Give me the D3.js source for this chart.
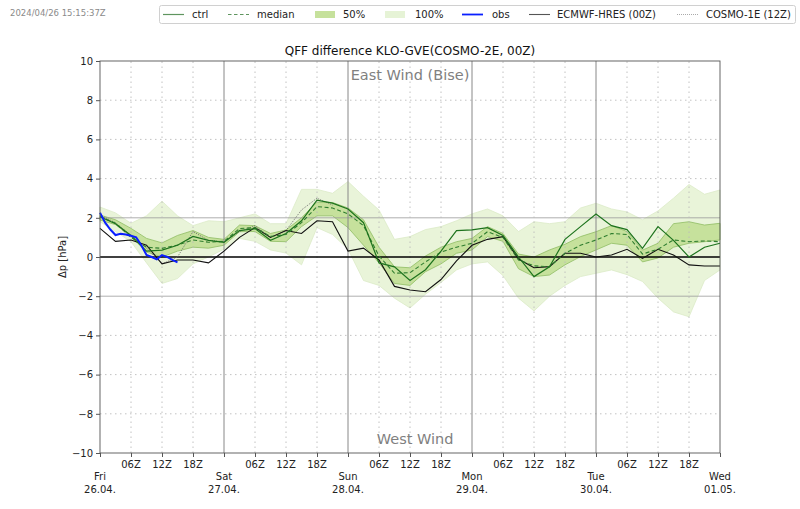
<!DOCTYPE html>
<html>
<head>
<meta charset="utf-8">
<script src="https://cdn.jsdelivr.net/npm/d3@7"></script>
<style>
  body { margin: 0; background: #fff; }
  text { font-family: "DejaVu Sans", sans-serif; }
</style>
</head>
<body>
<div id="chart"></div>
<script>
// forecast hours since Fri 26.04. 00Z, every 3 h
var hours = d3.range(0, 121, 3);

var ensMax = [2.55, 2.25, 1.72, 2.1, 2.85, 2.1, 1.6, 1.85, 1.8, 2.0, 2.2, 1.7, 1.7, 3.45,
    3.45, 3.25, 3.85, 3.1, 2.4, 0.9, 1.04, 1.4, 1.55, 1.85, 2.2, 2.45, 2.1, 1.3, 1.8,
    1.7, 1.8, 2.5, 2.74, 2.45, 2.3, 1.9, 2.35, 3.0, 3.7, 3.2, 3.42];
var ensMin = [1.8, 1.3, 0.78, -0.3, -1.35, -1.1, -0.35, 0.0, 0.4, 0.95, 0.8, 0.36, 0.2, -0.4,
    1.5, 1.15, 0.4, -1.2, -1.45, -2.1, -2.6, -1.9, -1.3, -0.66, -0.35, -0.25, -0.95, -2.1,
    -2.75, -2.0, -1.45, -1.0, -0.83, -0.66, -0.9, -1.25, -2.1, -2.8, -3.05, -1.2, -0.66];
var ensP75 = [2.14, 1.9, 1.46, 0.95, 0.72, 1.1, 1.35, 1.0, 0.9, 1.63, 1.6, 1.2, 1.38, 2.0,
    2.8, 2.78, 2.5, 1.9, 0.5, -0.5, -0.55, 0.05, 0.5, 0.78, 0.95, 1.55, 1.2, 0.15, 0.0,
    0.36, 0.65, 1.04, 1.29, 1.6, 1.3, 0.35, 0.7, 1.7, 1.8, 1.63, 1.72];
var ensP25 = [1.89, 1.65, 1.04, 0.25, 0.0, 0.3, 0.5, 0.45, 0.6, 1.29, 1.3, 0.8, 0.78, 1.55,
    2.1, 2.1, 1.5, 0.6, -0.3, -1.35, -1.45, -0.75, -0.35, 0.19, 0.36, 1.04, 0.8, -0.6,
    -1.0, -0.92, -0.4, 0.02, 0.36, 0.7, 0.6, -0.25, -0.05, 0.5, 0.7, 0.78, 0.87];
var ensMedian = [2.06, 1.72, 1.0, 0.5, 0.44, 0.61, 0.87, 0.75, 0.8, 1.45, 1.5, 1.05, 1.15,
    1.75, 2.57, 2.5, 2.2, 1.6, 0.05, -0.83, -0.8, -0.25, 0.25, 0.5, 0.7, 1.29, 1.0, -0.15,
    -0.45, -0.5, 0.19, 0.6, 0.87, 1.2, 1.15, 0.15, 0.4, 0.87, 0.78, 0.82, 0.78];
var ctrl = [2.05, 1.7, 1.1, 0.3, 0.35, 0.6, 1.05, 0.85, 0.75, 1.35, 1.45, 0.85, 1.2, 1.85,
    2.9, 2.75, 2.45, 1.75, -0.3, -0.5, -1.2, -0.65, 0.3, 1.35, 1.38, 1.5, 1.1, 0.0, -1.0,
    -0.5, 0.9, 1.55, 2.19, 1.6, 1.4, 0.44, 1.55, 0.85, 0.0, 0.5, 0.7];
var ecmwf = [1.46, 0.8, 0.87, 0.6, -0.35, -0.15, -0.15, -0.3, 0.3, 1.0, 1.5, 1.0, 1.35, 1.2,
    1.85, 1.8, 0.3, 0.45, -0.15, -1.5, -1.68, -1.77, -1.15, -0.2, 0.6, 0.9, 1.04, -0.1,
    -0.55, -0.49, 0.19, 0.19, 0.0, 0.1, 0.39, -0.07, 0.39, 0.1, -0.4, -0.46, -0.46];

// COSMO-1E 12Z run, ends Sat 21Z
var cosmo1eHours = d3.range(0, 46, 3);
var cosmo1e = [2.14, 1.75, 1.1, 0.45, -0.35, 0.0, 1.3, 0.85, 0.78, 1.29, 1.6, 1.0, 1.35,
    2.4, 3.0, 2.65];

// observations, hourly
var obsHours = d3.range(0, 16);
var obs = [2.26, 1.75, 1.4, 1.12, 1.18, 1.15, 1.08, 1.0, 0.6, 0.1, 0.0, -0.12, 0.1, 0.0,
    -0.15, -0.27];

var dayNames = ["Fri", "Sat", "Sun", "Mon", "Tue", "Wed"];
var dayDates = ["26.04.", "27.04.", "28.04.", "29.04.", "30.04.", "01.05."];
var hourLabels = ["06Z", "12Z", "18Z"];
var yTicks = d3.range(-10, 11, 2);

var width = 800, height = 509;
var margin = {top: 61, right: 80, bottom: 56, left: 100};

var svg = d3.select("#chart").append("svg")
    .attr("width", width)
    .attr("height", height);

var x = d3.scaleLinear().domain([0, 120]).range([margin.left, width - margin.right]);
var y = d3.scaleLinear().domain([-10, 10]).range([height - margin.bottom, margin.top]);

var lineOf = function (xs) {
    return d3.line().x(function (d, i) { return x(xs[i]); }).y(function (d) { return y(d); });
};
var areaOf = function (lo, hi) {
    return d3.area()
        .x(function (d, i) { return x(hours[i]); })
        .y0(function (d, i) { return y(lo[i]); })
        .y1(function (d, i) { return y(hi[i]); });
};

// bands
svg.append("path").datum(ensMax)
    .attr("d", areaOf(ensMin, ensMax))
    .attr("fill", "#e9f4d9")
    .attr("stroke", "#dcebc8")
    .attr("stroke-width", 0.8);
svg.append("path").datum(ensP75)
    .attr("d", areaOf(ensP25, ensP75))
    .attr("fill", "#c6e19c")
    .attr("stroke", "#8fbd63")
    .attr("stroke-width", 0.8);

// grid
var grid = svg.append("g");
yTicks.filter(function (t) { return Math.abs(t) !== 10; }).forEach(function (t) {
    var solid = Math.abs(t) === 2;
    if (t === 0) return;
    grid.append("line")
        .attr("x1", x(0)).attr("x2", x(120))
        .attr("y1", y(t)).attr("y2", y(t))
        .attr("stroke", solid ? "#9a9a9a" : "#bbbbbb")
        .attr("stroke-width", solid ? 0.8 : 0.9)
        .attr("stroke-dasharray", solid ? null : "1.5,3.5");
});
d3.range(6, 120, 6).forEach(function (h) {
    var dayLine = h % 24 === 0;
    grid.append("line")
        .attr("x1", x(h)).attr("x2", x(h))
        .attr("y1", y(-10)).attr("y2", y(10))
        .attr("stroke", dayLine ? "#888888" : "#bbbbbb")
        .attr("stroke-width", dayLine ? 1 : 0.9)
        .attr("stroke-dasharray", dayLine ? null : "1.5,3.5");
});
grid.append("line")
    .attr("x1", x(0)).attr("x2", x(120))
    .attr("y1", y(0)).attr("y2", y(0))
    .attr("stroke", "#000").attr("stroke-width", 1.3);

// wind annotations
svg.append("text")
    .text("East Wind (Bise)")
    .attr("x", x(60)).attr("y", 80)
    .attr("text-anchor", "middle")
    .attr("font-size", 14.5)
    .attr("fill", "#808080");
svg.append("text")
    .text("West Wind")
    .attr("x", x(61)).attr("y", 444)
    .attr("text-anchor", "middle")
    .attr("font-size", 14.5)
    .attr("fill", "#808080");

// lines
svg.append("path").datum(cosmo1e)
    .attr("d", lineOf(cosmo1eHours))
    .attr("fill", "none")
    .attr("stroke", "#666")
    .attr("stroke-width", 0.9)
    .attr("stroke-dasharray", "1,1.2");
svg.append("path").datum(ecmwf)
    .attr("d", lineOf(hours))
    .attr("fill", "none")
    .attr("stroke", "#111")
    .attr("stroke-width", 1.1);
svg.append("path").datum(ensMedian)
    .attr("d", lineOf(hours))
    .attr("fill", "none")
    .attr("stroke", "#2f7d2f")
    .attr("stroke-width", 1.1)
    .attr("stroke-dasharray", "4,2.5");
svg.append("path").datum(ctrl)
    .attr("d", lineOf(hours))
    .attr("fill", "none")
    .attr("stroke", "#1d731d")
    .attr("stroke-width", 1.2);
svg.append("path").datum(obs)
    .attr("d", lineOf(obsHours))
    .attr("fill", "none")
    .attr("stroke", "#0a1fff")
    .attr("stroke-width", 2);

// frame
svg.append("rect")
    .attr("x", x(0)).attr("y", y(10))
    .attr("width", x(120) - x(0)).attr("height", y(-10) - y(10))
    .attr("fill", "none")
    .attr("stroke", "#555")
    .attr("stroke-width", 0.9);

// y axis
var yAxis = svg.append("g")
    .attr("transform", "translate(" + x(0) + ",0)")
    .call(d3.axisLeft(y).tickValues(yTicks).tickSize(4).tickPadding(3)
        .tickFormat(function (d) { return d < 0 ? "\u2212" + Math.abs(d) : d; }));
yAxis.select(".domain").remove();
yAxis.selectAll("text").attr("font-size", 10).attr("font-family", "DejaVu Sans").attr("fill", "#222");
yAxis.selectAll("line").attr("stroke", "#555");

svg.append("text")
    .text("\u0394p [hPa]")
    .attr("transform", "translate(66," + y(0) + ") rotate(-90)")
    .attr("text-anchor", "middle")
    .attr("font-size", 10)
    .attr("fill", "#222");

// x axis
var xTicks = d3.range(0, 121, 6);
var xAxis = svg.append("g")
    .attr("transform", "translate(0," + y(-10) + ")")
    .call(d3.axisBottom(x).tickValues(xTicks).tickSize(4).tickFormat(""));
xAxis.select(".domain").remove();
xAxis.selectAll("line").attr("stroke", "#555");

xTicks.forEach(function (h) {
    if (h % 24 === 0) {
        var di = h / 24;
        svg.append("text")
            .text(dayNames[di])
            .attr("x", x(h)).attr("y", 480)
            .attr("text-anchor", "middle")
            .attr("font-size", 10).attr("fill", "#222");
        svg.append("text")
            .text(dayDates[di])
            .attr("x", x(h)).attr("y", 493)
            .attr("text-anchor", "middle")
            .attr("font-size", 10).attr("fill", "#222");
    } else {
        svg.append("text")
            .text(hourLabels[(h % 24) / 6 - 1])
            .attr("x", x(h)).attr("y", 468)
            .attr("text-anchor", "middle")
            .attr("font-size", 10).attr("fill", "#222");
    }
});

// title and timestamp
svg.append("text")
    .text("QFF difference KLO-GVE(COSMO-2E, 00Z)")
    .attr("x", x(60)).attr("y", 55)
    .attr("text-anchor", "middle")
    .attr("font-size", 12)
    .attr("fill", "#111");
svg.append("text")
    .text("2024/04/26 15:15:37Z")
    .attr("x", 10).attr("y", 16)
    .attr("font-size", 8.5)
    .attr("fill", "#8a8a8a");

// legend
var legend = svg.append("g");
legend.append("rect")
    .attr("x", 159.5).attr("y", 5.5)
    .attr("width", 636).attr("height", 18)
    .attr("rx", 2)
    .attr("fill", "#fff")
    .attr("stroke", "#d0d0d0");
var legendItems = [
    {label: "ctrl", kind: "line", color: "#5f955f", x: 163, tx: 192, dash: null, w: 1.2},
    {label: "median", kind: "line", color: "#5f955f", x: 228, tx: 257, dash: "3.5,2.5", w: 1.2},
    {label: "50%", kind: "patch", color: "#c6e19c", x: 315, tx: 343},
    {label: "100%", kind: "patch", color: "#e6f3d6", x: 385, tx: 415},
    {label: "obs", kind: "line", color: "#0a1fff", x: 462, tx: 492, dash: null, w: 1.8},
    {label: "ECMWF-HRES (00Z)", kind: "line", color: "#555", x: 529, tx: 557, dash: null, w: 1.1},
    {label: "COSMO-1E (12Z)", kind: "line", color: "#aaa", x: 677, tx: 706, dash: "1,1", w: 1}
];
legendItems.forEach(function (it) {
    if (it.kind === "line") {
        legend.append("line")
            .attr("x1", it.x).attr("x2", it.x + 21)
            .attr("y1", 14.5).attr("y2", 14.5)
            .attr("stroke", it.color)
            .attr("stroke-width", it.w)
            .attr("stroke-dasharray", it.dash);
    } else {
        legend.append("rect")
            .attr("x", it.x).attr("y", 11)
            .attr("width", 20).attr("height", 7)
            .attr("fill", it.color);
    }
    legend.append("text")
        .text(it.label)
        .attr("x", it.tx).attr("y", 18.3)
        .attr("font-size", 10)
        .attr("fill", "#222");
});
</script>
</body>
</html>
